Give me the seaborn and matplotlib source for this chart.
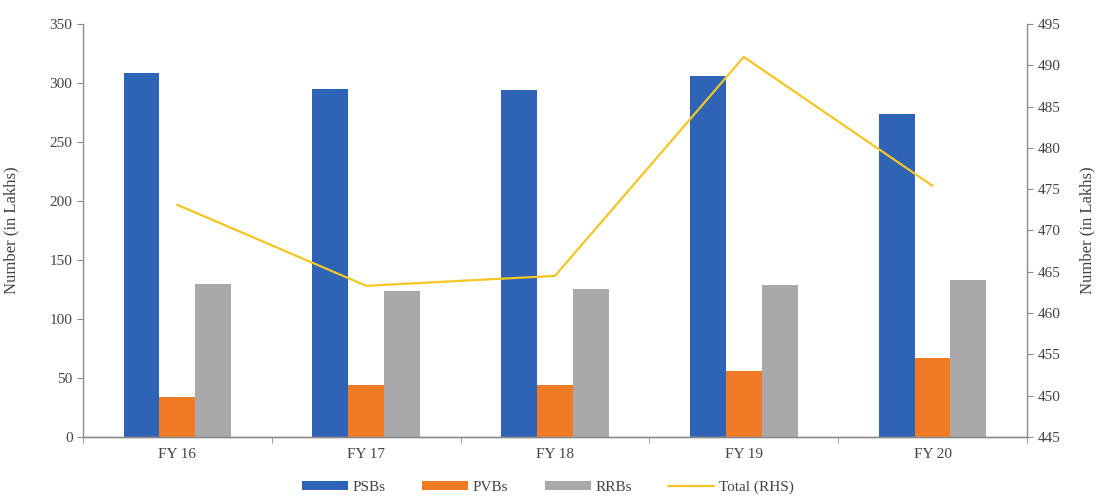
import numpy as np
import pandas as pd
import matplotlib
matplotlib.use("Agg")
import matplotlib.pyplot as plt
from matplotlib.lines import Line2D
from matplotlib.patches import Patch
import seaborn as sns

# Number of accounts by bank group (in lakhs)
years = ["FY 16", "FY 17", "FY 18", "FY 19", "FY 20"]
psbs = [308, 295, 294, 306, 274]
pvbs = [34, 44, 44, 56, 67]
rrbs = [130, 124, 125, 129, 133]
total = [473.1, 463.3, 464.5, 491.0, 475.4]

series_names = ["PSBs", "PVBs", "RRBs"]
colors = ["#2F63B6", "#F07B24", "#A9A9AB"]
line_color = "#F3C623"

sns.set_style("white")
plt.rcParams["font.family"] = ["Liberation Serif", "DejaVu Serif"]

df = pd.DataFrame({
    "year": years * 3,
    "value": psbs + pvbs + rrbs,
    "group": [n for n in series_names for _ in years],
})

fig = plt.figure(figsize=(10.96, 4.98), dpi=100)
ax = fig.add_axes([0.0757, 0.1225, 0.8613, 0.8295])

sns.barplot(data=df, x="year", y="value", hue="group", order=years,
            hue_order=series_names, palette=colors, width=0.57,
            saturation=1, linewidth=0, ax=ax, legend=False)

ax.set_xlim(-0.5, 4.5)
ax.set_ylim(0, 350)
ax.set_yticks(np.arange(0, 351, 50))
ax.set_xlabel("")
ax.set_ylabel("Number (in Lakhs)", fontsize=12, color="#444444",
              labelpad=22)

ax2 = ax.twinx()
sns.lineplot(x=np.arange(len(years)), y=total, ax=ax2, color=line_color,
             linewidth=1.6)
ax2.set_ylim(445, 495)
ax2.set_yticks(np.arange(445, 496, 5))
ax2.set_ylabel("Number (in Lakhs)", fontsize=12, color="#444444",
               labelpad=14)
ax2.set_xlim(-0.5, 4.5)

spine_color = "#8c8c8c"
for a in (ax, ax2):
    a.spines["top"].set_visible(False)
    for s in ("left", "right", "bottom"):
        a.spines[s].set_color(spine_color)
        a.spines[s].set_linewidth(1.0)
    a.tick_params(axis="y", labelsize=11, colors="#444444", length=4,
                  color=spine_color, direction="out")

ax.spines["right"].set_visible(False)
ax2.spines["left"].set_visible(False)
ax.tick_params(axis="y", left=True)
ax2.tick_params(axis="y", right=True)

# category separators as ticks on the x axis
ax.set_xticks(np.arange(len(years)))
ax.set_xticklabels(years)
ax.set_xticks(np.arange(-0.5, len(years), 1), minor=True)
ax.tick_params(axis="x", which="major", length=0, labelsize=11,
               colors="#444444", pad=8)
ax.tick_params(axis="x", which="minor", length=4, color=spine_color,
               bottom=True)

handles = [Patch(facecolor=c, edgecolor="none") for c in colors]
handles.append(Line2D([], [], color=line_color, linewidth=1.6))
labels = series_names + ["Total (RHS)"]
fig.legend(handles, labels, loc="center", ncol=4, frameon=False,
           bbox_to_anchor=(0.5, 0.022), fontsize=11, handlelength=3.0,
           handleheight=0.55, columnspacing=2.4, handletextpad=0.3,
           labelcolor="#444444")

fig.savefig("out.png", dpi=100)
